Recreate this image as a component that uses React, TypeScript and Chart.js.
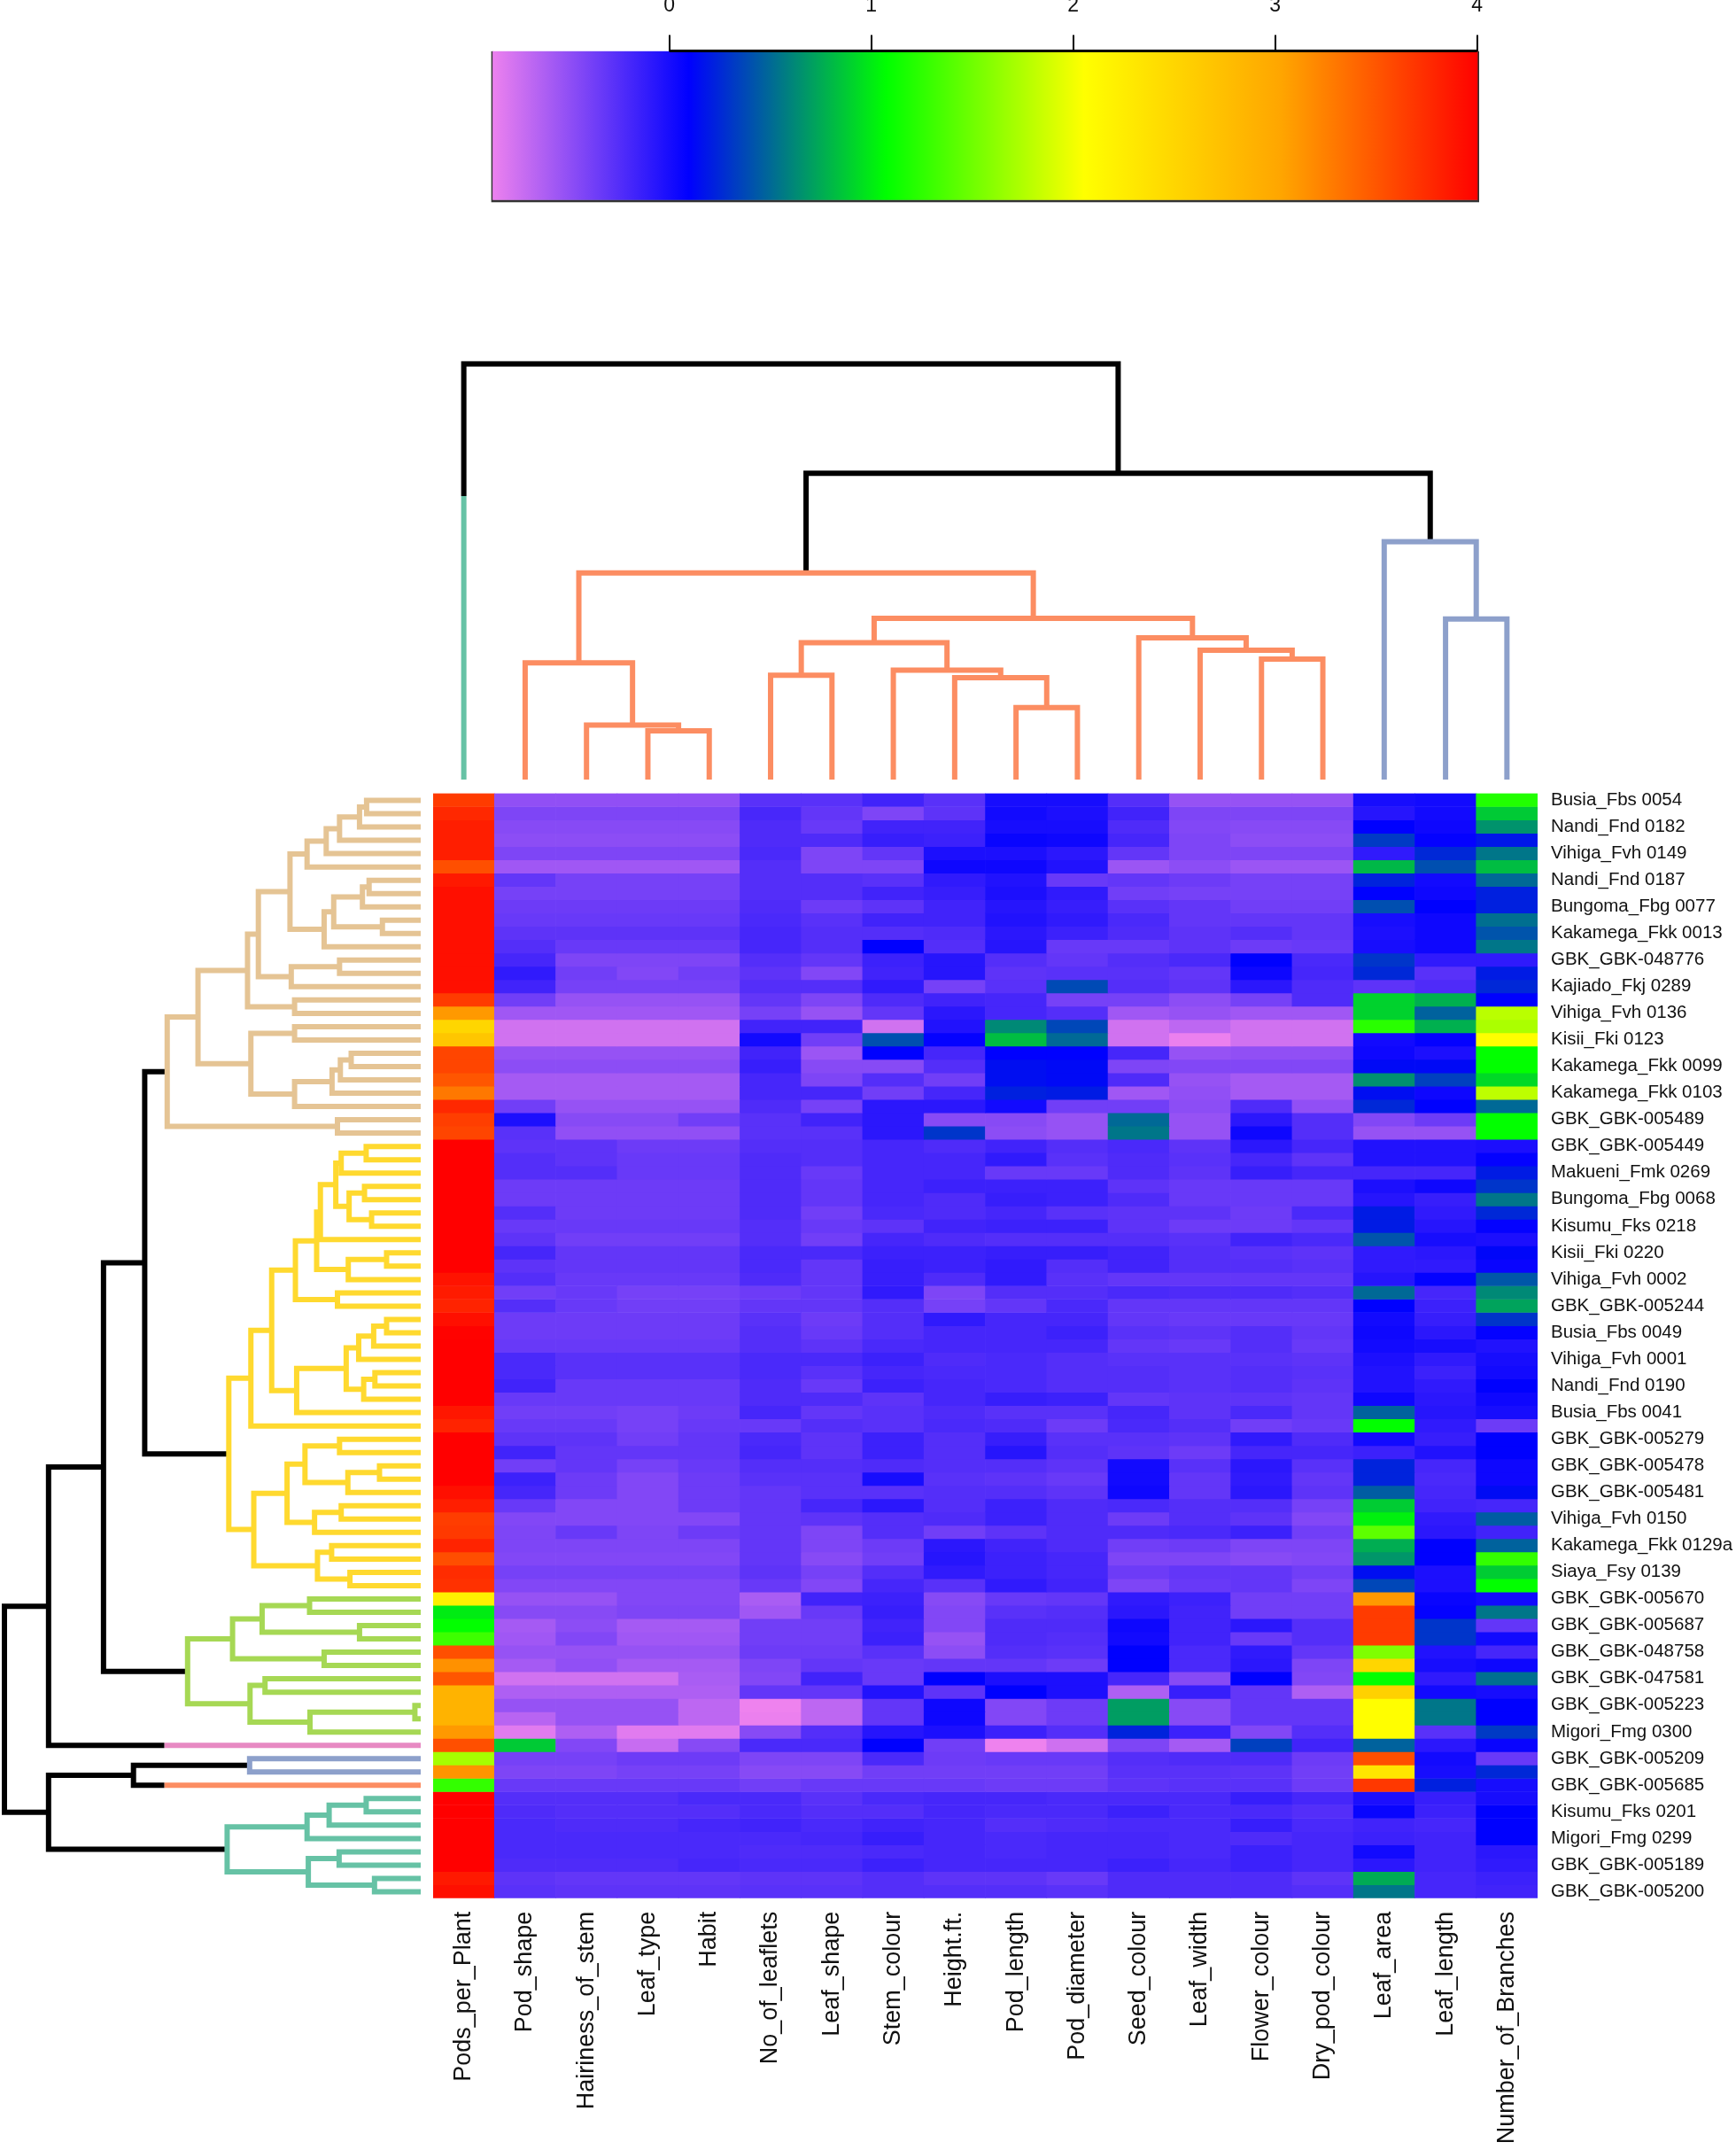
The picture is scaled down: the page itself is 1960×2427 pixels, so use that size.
import React, { useEffect, useRef } from "react";
import { Chart, registerables } from "chart.js";

Chart.register(...registerables);

const variables = ["Pods_per_Plant","Pod_shape","Hairiness_of_stem","Leaf_type","Habit","No_of_leaflets","Leaf_shape","Stem_colour","Height.ft.","Pod_length","Pod_diameter","Seed_colour","Leaf_width","Flower_colour","Dry_pod_colour","Leaf_area","Leaf_length","Number_of_Branches"];

const rowLabels = ["Busia_Fbs 0054","Nandi_Fnd 0182","Vihiga_Fvh 0149","Nandi_Fnd 0187","Bungoma_Fbg 0077","Kakamega_Fkk 0013","GBK_GBK-048776","Kajiado_Fkj 0289","Vihiga_Fvh 0136","Kisii_Fki 0123","Kakamega_Fkk 0099","Kakamega_Fkk 0103","GBK_GBK-005489","GBK_GBK-005449","Makueni_Fmk 0269","Bungoma_Fbg 0068","Kisumu_Fks 0218","Kisii_Fki 0220","Vihiga_Fvh 0002","GBK_GBK-005244","Busia_Fbs 0049","Vihiga_Fvh 0001","Nandi_Fnd 0190","Busia_Fbs 0041","GBK_GBK-005279","GBK_GBK-005478","GBK_GBK-005481","Vihiga_Fvh 0150","Kakamega_Fkk 0129a","Siaya_Fsy 0139","GBK_GBK-005670","GBK_GBK-005687","GBK_GBK-048758","GBK_GBK-047581","GBK_GBK-005223","Migori_Fmg 0300","GBK_GBK-005209","GBK_GBK-005685","Kisumu_Fks 0201","Migori_Fmg 0299","GBK_GBK-005189","GBK_GBK-005200"];

const tanRows = [
[3.66,-.5,-.5,-.5,-.5,-.27,-.27,-.17,-.27,0,0,-.25,-.52,-.52,-.52,0,.02,1.2],
[3.77,-.42,-.42,-.42,-.42,-.2,-.31,-.42,-.29,.02,-.02,-.17,-.42,-.42,-.42,-.06,.02,.87],
[3.83,-.46,-.46,-.46,-.46,-.23,-.33,-.17,-.17,0,0,-.23,-.44,-.46,-.46,.1,.04,.66],
[3.83,-.48,-.48,-.48,-.48,-.23,-.23,-.13,-.15,.06,.04,-.19,-.42,-.48,-.48,.32,.08,.18],
[3.83,-.42,-.42,-.42,-.42,-.21,-.42,-.31,-.02,-.02,-.08,-.31,-.42,-.42,-.42,-.1,.25,.55],
[3.54,-.56,-.56,-.56,-.56,-.25,-.42,-.42,.04,.04,-.04,-.54,-.48,-.54,-.54,.8,.4,.82],
[3.86,-.31,-.39,-.39,-.39,-.25,-.25,-.27,-.1,-.04,-.33,-.31,-.35,-.39,-.39,.23,.02,.5],
[3.92,-.39,-.39,-.39,-.39,-.25,-.25,-.17,-.13,-.02,-.1,-.37,-.39,-.39,-.39,.1,.04,.22],
[3.92,-.35,-.35,-.35,-.35,-.23,-.35,-.29,-.17,-.06,-.13,-.27,-.31,-.37,-.37,.4,.1,.22],
[3.92,-.33,-.33,-.33,-.33,-.21,-.27,-.17,-.17,-.04,-.1,-.21,-.31,-.31,-.31,0,.04,.52],
[3.92,-.29,-.29,-.29,-.29,-.19,-.25,-.25,-.23,-.08,-.15,-.23,-.29,-.25,-.31,-.02,.04,.42],
[3.92,-.25,-.33,-.33,-.33,-.19,-.25,.1,-.25,-.06,-.33,-.33,-.29,-.35,-.33,0,.04,.55],
[3.92,-.19,-.42,-.42,-.42,-.25,-.31,-.15,-.06,-.25,-.31,-.25,-.21,.1,-.21,.3,-.1,-.1],
[3.92,-.1,-.37,-.44,-.37,-.29,-.44,-.17,-.06,-.29,-.27,-.27,-.31,.04,-.19,.25,-.27,.2],
[3.92,-.17,-.39,-.39,-.39,-.25,-.25,-.1,-.39,-.27,.38,-.25,-.29,-.08,-.23,-.29,-.23,.25],
[3.66,-.37,-.52,-.52,-.52,-.31,-.42,-.23,-.17,-.19,-.39,-.39,-.48,-.39,-.23,.9,.77,.1],
[3.1,-.56,-.56,-.56,-.56,-.39,-.52,-.31,-.08,-.19,-.25,-.56,-.52,-.56,-.56,.9,.47,1.79],
[2.5,-.76,-.76,-.76,-.76,-.17,-.17,-.76,-.04,.62,.37,-.76,-.68,-.76,-.76,1.23,.77,1.73],
[2.67,-.76,-.76,-.76,-.76,.02,-.37,.4,.08,.82,.5,-.76,-.87,-.76,-.76,.02,.08,2.06],
[3.6,-.52,-.52,-.52,-.52,-.17,-.54,.1,-.19,.1,.1,-.19,-.52,-.5,-.5,.04,-.02,1.08],
[3.6,-.48,-.48,-.48,-.48,-.13,-.46,-.46,-.25,.15,.13,-.42,-.44,-.44,-.44,.13,.13,1.08],
[3.5,-.58,-.58,-.58,-.58,-.19,-.42,-.25,-.37,.15,.13,-.23,-.52,-.58,-.58,.65,.34,.93],
[3.3,-.58,-.58,-.58,-.58,-.19,-.19,-.37,-.19,.22,.2,-.56,-.5,-.58,-.58,.15,.04,1.8],
[3.77,-.37,-.52,-.52,-.52,-.23,-.39,-.08,-.08,.02,-.37,-.37,-.48,-.23,-.5,.25,.1,.5],
[3.64,-.02,-.46,-.46,-.37,-.27,-.17,-.08,-.46,-.46,-.52,.5,-.52,-.08,-.25,-.44,-.35,1.08],
[3.6,-.27,-.5,-.5,-.5,-.27,-.27,-.08,.3,-.48,-.52,.55,-.52,.04,-.25,-.52,-.52,1.08],
];

const yellowRows = [
[4.01,-.29,-.29,-.35,-.35,-.25,-.25,-.19,-.23,-.17,-.25,-.21,-.29,-.08,-.19,-.04,-.04,-.02],
[4.01,-.25,-.29,-.33,-.33,-.23,-.25,-.19,-.19,-.1,-.27,-.23,-.27,-.19,-.29,-.04,-.04,.08],
[4.01,-.25,-.25,-.33,-.33,-.23,-.33,-.19,-.19,-.33,-.33,-.23,-.29,-.13,-.19,-.19,-.19,.2],
[4.01,-.35,-.35,-.35,-.35,-.23,-.31,-.19,-.15,-.15,-.15,-.29,-.33,-.33,-.33,-.02,.04,.3],
[4.01,-.35,-.35,-.35,-.35,-.23,-.31,-.19,-.23,-.13,-.15,-.23,-.33,-.33,-.33,-.06,-.13,.55],
[4.01,-.25,-.35,-.35,-.35,-.23,-.37,-.21,-.23,-.19,-.27,-.29,-.29,-.35,-.21,.2,-.1,.25],
[4.01,-.33,-.33,-.33,-.33,-.25,-.33,-.29,-.17,-.15,-.15,-.29,-.35,-.35,-.31,.2,-.06,.08],
[4.01,-.29,-.37,-.37,-.37,-.25,-.37,-.19,-.23,-.25,-.25,-.25,-.27,-.17,-.21,.42,0,-.02],
[4.01,-.19,-.31,-.31,-.31,-.21,-.21,-.15,-.15,-.13,-.13,-.17,-.25,-.27,-.29,-.1,-.08,.12],
[4.01,-.29,-.31,-.31,-.31,-.21,-.31,-.13,-.15,-.1,-.25,-.17,-.25,-.25,-.27,-.1,-.1,.06],
[3.9,-.25,-.33,-.33,-.33,-.23,-.31,-.13,-.23,-.1,-.27,-.31,-.31,-.31,-.31,-.06,.08,.43],
[3.85,-.37,-.33,-.39,-.39,-.35,-.31,-.1,-.42,-.25,-.25,-.21,-.23,-.23,-.25,.5,-.19,.62],
[3.8,-.25,-.33,-.37,-.37,-.31,-.31,-.25,-.39,-.31,-.21,-.31,-.31,-.31,-.31,.1,-.15,.72],
[3.92,-.35,-.35,-.35,-.35,-.27,-.35,-.25,-.1,-.19,-.19,-.31,-.33,-.33,-.33,.02,-.13,.3],
[4.0,-.35,-.35,-.35,-.35,-.25,-.33,-.25,-.19,-.19,-.15,-.27,-.29,-.25,-.31,.04,-.08,.08],
[4.01,-.33,-.33,-.33,-.33,-.25,-.29,-.21,-.19,-.19,-.19,-.31,-.33,-.25,-.33,.02,0,-.04],
[4.01,-.21,-.27,-.27,-.27,-.21,-.21,-.15,-.23,-.21,-.25,-.27,-.27,-.27,-.29,-.02,-.1,0],
[4.01,-.21,-.27,-.27,-.27,-.21,-.27,-.19,-.21,-.21,-.25,-.25,-.27,-.25,-.27,-.04,-.15,.02],
[4.01,-.17,-.33,-.33,-.33,-.23,-.33,-.15,-.19,-.21,-.25,-.25,-.27,-.25,-.29,-.04,-.1,.1],
[4.01,-.33,-.33,-.33,-.33,-.23,-.23,-.29,-.19,-.13,-.15,-.31,-.29,-.29,-.31,.04,-.08,.04],
[3.88,-.37,-.37,-.39,-.35,-.19,-.31,-.27,-.23,-.27,-.27,-.19,-.29,-.21,-.31,.47,-.06,0],
[3.8,-.33,-.33,-.39,-.33,-.33,-.25,-.27,-.21,-.23,-.35,-.21,-.25,-.37,-.33,1.08,-.1,-.35],
[4.01,-.29,-.29,-.37,-.31,-.21,-.29,-.15,-.25,-.13,-.27,-.27,-.29,-.1,-.23,.02,-.13,.1],
[4.01,-.17,-.31,-.31,-.31,-.19,-.29,-.15,-.25,-.06,-.25,-.29,-.35,-.19,-.19,-.15,-.04,.1],
[4.01,-.37,-.31,-.39,-.33,-.25,-.25,-.23,-.25,-.25,-.29,.02,-.27,-.08,-.27,.23,-.19,.04],
[4.01,-.15,-.35,-.44,-.35,-.27,-.27,0,-.27,-.29,-.33,.02,-.31,-.1,-.31,.23,-.21,.04],
[3.92,-.19,-.35,-.44,-.35,-.31,-.27,-.27,-.25,-.25,-.29,.04,-.31,-.08,-.29,.45,-.19,.14],
[3.83,-.33,-.44,-.44,-.35,-.31,-.19,-.08,-.25,-.15,-.23,-.21,-.25,-.25,-.39,.88,-.17,-.19],
[3.65,-.44,-.44,-.44,-.44,-.31,-.29,-.25,-.23,-.15,-.23,-.35,-.25,-.29,-.44,1.02,-.1,.45],
[3.67,-.42,-.33,-.42,-.35,-.31,-.42,-.25,-.37,-.29,-.23,-.23,-.21,-.15,-.37,1.43,-.08,-.17],
[3.8,-.42,-.42,-.42,-.42,-.31,-.42,-.35,-.08,-.17,-.23,-.37,-.35,-.42,-.42,.76,.1,.47],
[3.55,-.44,-.44,-.44,-.44,-.31,-.46,-.37,-.06,-.15,-.19,-.42,-.42,-.46,-.44,.67,.1,1.27],
[3.75,-.39,-.39,-.39,-.39,-.29,-.39,-.25,-.1,-.15,-.19,-.35,-.31,-.31,-.37,.15,-.02,.88],
[3.72,-.44,-.44,-.44,-.44,-.33,-.44,-.19,-.27,-.1,-.17,-.42,-.33,-.31,-.42,.37,-.02,1.08],
];

const greenRows = [
[2.22,-.52,-.52,-.44,-.44,-.6,-.17,-.15,-.46,-.33,-.31,-.1,-.15,-.37,-.37,3.1,.06,.02],
[1.0,-.46,-.46,-.42,-.42,-.56,-.33,-.13,-.44,-.27,-.25,-.08,-.17,-.37,-.37,3.66,.08,.55],
[1.08,-.58,-.48,-.58,-.58,-.37,-.37,-.17,-.44,-.23,-.23,.04,-.17,-.08,-.25,3.66,.3,-.31],
[1.31,-.56,-.44,-.56,-.56,-.37,-.37,-.15,-.52,-.23,-.25,.02,-.17,-.33,-.25,3.66,.3,.02],
[3.54,-.52,-.52,-.52,-.52,-.35,-.35,-.27,-.48,-.25,-.27,.1,-.21,-.1,-.31,1.56,-.04,-.19],
[3.15,-.58,-.5,-.58,-.58,-.42,-.31,-.33,-.31,-.31,-.35,.1,-.21,-.08,-.42,2.5,0,.04],
[3.5,-.76,-.76,-.76,-.6,-.44,-.17,-.33,.1,-.02,-.02,-.19,-.46,.1,-.44,1.08,-.1,.52],
[2.88,-.62,-.62,-.62,-.62,-.31,-.31,-.04,-.29,.1,-.02,-.62,-.13,-.31,-.62,2.55,.02,0],
[2.88,-.52,-.52,-.52,-.68,-.88,-.68,-.31,.04,-.44,-.35,.7,-.46,-.31,-.31,2.06,.55,.1],
[2.88,-.66,-.52,-.52,-.68,-.87,-.68,-.31,.04,-.44,-.35,.7,-.46,-.31,-.31,2.06,.55,.1],
[3.1,-.83,-.62,-.83,-.83,-.46,-.25,-.06,-.02,-.15,-.25,.23,-.15,-.44,-.25,2.06,-.27,.32],
];

const pinkRows = [
[3.54,.87,-.44,-.72,-.46,-.21,-.21,.1,-.37,-.88,-.75,-.42,-.58,.34,-.17,.47,-.08,.06],
];

const blueRows = [
[1.71,-.39,-.39,-.35,-.35,-.42,-.42,-.21,-.35,-.33,-.33,-.25,-.23,-.23,-.35,3.54,.02,-.33],
[3.13,-.42,-.42,-.39,-.39,-.46,-.46,-.37,-.37,-.37,-.37,-.27,-.27,-.29,-.37,2.33,0,.25],
];

const orangeRows = [
[1.27,-.33,-.33,-.33,-.33,-.37,-.33,-.33,-.33,-.35,-.35,-.29,-.27,-.27,-.35,3.68,.22,0],
];

const tealRows = [
[4.01,-.25,-.25,-.25,-.21,-.21,-.27,-.21,-.19,-.19,-.21,-.21,-.21,-.13,-.19,-.02,-.13,0],
[4.01,-.23,-.25,-.25,-.25,-.21,-.25,-.25,-.19,-.21,-.21,-.15,-.21,-.21,-.25,.06,-.15,.1],
[4.01,-.21,-.23,-.23,-.19,-.17,-.21,-.17,-.19,-.25,-.23,-.21,-.21,-.13,-.21,-.17,-.19,.1],
[4.01,-.21,-.21,-.21,-.21,-.21,-.19,-.13,-.19,-.21,-.19,-.19,-.21,-.23,-.19,-.15,-.17,.1],
[4.01,-.21,-.21,-.21,-.21,-.23,-.23,-.21,-.19,-.21,-.19,-.19,-.21,-.15,-.19,.02,-.17,-.08],
[4.01,-.23,-.23,-.23,-.19,-.21,-.21,-.15,-.19,-.19,-.19,-.15,-.19,-.15,-.19,-.08,-.17,-.1],
[3.86,-.29,-.31,-.31,-.31,-.29,-.29,-.25,-.29,-.29,-.33,-.23,-.23,-.23,-.29,.75,-.19,-.15],
[3.92,-.27,-.29,-.29,-.29,-.27,-.27,-.25,-.25,-.25,-.27,-.23,-.23,-.23,-.25,.55,-.19,-.17],
];

const heatRows = [...tanRows, ...yellowRows, ...greenRows, ...pinkRows, ...blueRows, ...orangeRows, ...tealRows];

const keyStops = [-0.882, 0.096, 1.074, 2.053, 3.031, 4.01];
const keyColours = [[238,130,238],[0,0,255],[0,255,0],[255,255,0],[255,165,0],[255,0,0]];
const keyTicks = [0, 1, 2, 3, 4];

const SET2 = { teal:"#66C2A5", orange:"#FC8D62", blue:"#8DA0CB", pink:"#E78AC3", green:"#A6D854", yellow:"#FFD92F", tan:"#E5C494" };

// Dendrograms: [merge height, left child, right child]; numbers are leaf positions.
const tanTree: any = [60.9,[53.5,[41.6,[39.0,[31.4,[27.3,[22.7,[19.5,[14.7,[13,0,1],2],3],4],5],[23.2,[20.9,[14,[12.4,6,7],8],[9.2,9,10]],11]],[31.1,[19.5,12,13],14]],[30.3,15,16]],[40.8,[30.3,17,18],[30.3,[21.3,[19.3,[16.7,19,20],21],22],23]]],[20,24,25]];
const yellowTree: any = [46.1,[40.8,[35.8,[30.1,[25.0,[24.1,[20.4,[19.1,[13.1,26,27],28],[17.2,[13.5,29,30],[11.8,31,32]]],33],[17.4,[8.2,34,35],36]],[20,37,38]],[29.8,[17.9,[14.9,[11.3,[8.2,39,40],41],42],[13.7,[11,43,44],45]],46]],47],[40.1,[32.1,[27.8,[19.5,48,49],[17.5,[9.9,50,51],52]],[25.5,[19.1,53,54],55]],[24.8,[21.4,56,57],[17,58,59]]]];
const greenTree: any = [56,[45.2,[38.1,[26.7,60,61],[14.7,62,63]],[23.2,64,65]],[41,[37.4,66,67],[26.6,[1.4,68,69],70]]];
const rowBlueTree: any = [41.1,72,73];
const tealTree: any = [46.5,[27.3,[22,[13.1,75,76],77],78],[27,[19.6,79,80],[11.1,81,82]]];
const rowRoot: any = [100,[89.4,[76.2,[66.3,tanTree,yellowTree],greenTree],71],[89.4,[69,rowBlueTree,74],tealTree]];
const rowCut = 61.6;

const colOrangeTree: any = [49.7,[28.1,1,[13.1,2,[11.7,3,4]]],[38.8,[32.9,[25.1,5,6],[26.3,7,[24.5,8,[17.3,9,10]]]],[34.1,11,[31.1,12,[29,13,14]]]]];
const colBlueTree: any = [57.2,15,[38.6,16,17]];
const colRoot: any = [100,0,[73.7,colOrangeTree,colBlueTree]];
const colCut = 68.2;

const FONT = "'Liberation Sans', Arial, sans-serif";

function valueColour(v: number) {
  const c = Math.max(keyStops[0], Math.min(keyStops[keyStops.length - 1], v));
  let i = 0;
  while (i < keyStops.length - 2 && c > keyStops[i + 1]) i++;
  const t = (c - keyStops[i]) / (keyStops[i + 1] - keyStops[i]);
  const a = keyColours[i], b = keyColours[i + 1];
  return `rgb(${a.map((p, k) => Math.round(p + (b[k] - p) * t)).join(",")})`;
}

function dendroSegments(root: any, colours: Map<any, string>, singles: Record<number, string>, cut: number) {
  const segs: { pts: [number, number][]; color: string }[] = [];
  const walk = (node: any, inherited: string): number => {
    if (typeof node === "number") return node + 0.5;
    const color = colours.get(node) || inherited;
    const [h, l, r] = node;
    const a = walk(l, color), b = walk(r, color);
    const hl = typeof l === "number" ? 0 : l[0];
    const hr = typeof r === "number" ? 0 : r[0];
    const stop = (child: any, hc: number) => (typeof child === "number" && singles[child] ? cut : hc);
    segs.push({ pts: [[a, stop(l, hl)], [a, h], [b, h], [b, stop(r, hr)]], color });
    for (const [child, p] of [[l, a], [r, b]] as any) {
      if (typeof child === "number" && singles[child]) segs.push({ pts: [[p, cut], [p, 0]], color: singles[child] });
    }
    return (a + b) / 2;
  };
  walk(root, "#000000");
  return segs;
}

function dendroDatasets(segs: ReturnType<typeof dendroSegments>, horizontal: boolean) {
  return segs.map((s) => ({
    data: s.pts.map(([p, h]) => (horizontal ? { x: h, y: p } : { x: p, y: h })),
    borderColor: s.color,
    borderWidth: 6,
    showLine: true,
    pointRadius: 0,
    tension: 0,
    clip: false as any,
    borderJoinStyle: "miter" as const,
    borderCapStyle: "butt" as const,
  }));
}

const base = { animation: false as const, responsive: false, devicePixelRatio: 1, plugins: { legend: { display: false }, tooltip: { enabled: false } } };

function useChart(build: (c: HTMLCanvasElement) => Chart) {
  const ref = useRef<HTMLCanvasElement>(null);
  useEffect(() => {
    const chart = build(ref.current!);
    return () => chart.destroy();
  }, []);
  return ref;
}

function abs(left: number, top: number): React.CSSProperties {
  return { position: "absolute", left, top, display: "block", filter: "blur(0.7px)" };
}

function zeroPadding(s: any) {
  s.paddingTop = 0; s.paddingBottom = 0; s.paddingLeft = 0; s.paddingRight = 0;
}

function ColourKey() {
  const ref = useChart((c) => new Chart(c, {
    type: "bar",
    data: {
      labels: ["key"],
      datasets: [{
        data: [[keyStops[0], keyStops[keyStops.length - 1]]] as any,
        barPercentage: 1,
        categoryPercentage: 1,
        borderColor: "#333333",
        borderWidth: { left: 2, right: 2, bottom: 3, top: 0 } as any,
        borderSkipped: false,
        backgroundColor: (ctx: any) => {
          const { chart } = ctx;
          const x = chart.scales.x;
          if (!chart.chartArea || !x) return "#0000ff";
          const from = x.getPixelForValue(keyStops[0]);
          const to = x.getPixelForValue(keyStops[keyStops.length - 1]);
          const g = chart.ctx.createLinearGradient(from, 0, to, 0);
          keyStops.forEach((s, i) => g.addColorStop((s - keyStops[0]) / (keyStops[keyStops.length - 1] - keyStops[0]), `rgb(${keyColours[i].join(",")})`));
          return g;
        },
      }],
    },
    plugins: [{
      id: "axisSegment",
      afterDraw(chart: any) {
        const { ctx, scales: { x }, chartArea } = chart;
        ctx.save();
        ctx.strokeStyle = "#000";
        ctx.lineWidth = 3;
        ctx.beginPath();
        ctx.moveTo(x.getPixelForValue(keyTicks[0]), chartArea.top);
        ctx.lineTo(x.getPixelForValue(keyTicks[keyTicks.length - 1]), chartArea.top);
        ctx.stroke();
        ctx.restore();
      },
    }],
    options: {
      ...base,
      indexAxis: "y",
      layout: { padding: { left: 14.5, right: 30, bottom: 11.5 } },
      scales: {
        y: { display: false },
        x: {
          position: "top",
          min: keyStops[0],
          max: keyStops[keyStops.length - 1],
          afterFit: (s: any) => { s.height = 57.5; zeroPadding(s); },
          afterBuildTicks: (s: any) => { s.ticks = keyTicks.map((value) => ({ value })); },
          border: { display: false },
          grid: { drawOnChartArea: false, drawTicks: true, tickLength: 18, color: "#000", lineWidth: 2 },
          ticks: { padding: 19, color: "#111", font: { family: FONT, size: 23 }, maxRotation: 0, autoSkip: false, callback: (v: any) => String(v) },
        },
      },
    } as any,
  }));
  return <canvas ref={ref} width={1160} height={240} style={abs(540, 0)} />;
}

function TopTree() {
  const ref = useChart((c) => new Chart(c, {
    type: "scatter",
    data: { datasets: dendroDatasets(dendroSegments(colRoot, new Map([[colOrangeTree, SET2.orange], [colBlueTree, SET2.blue]]), { 0: SET2.teal }, colCut), false) as any },
    options: {
      ...base,
      layout: { padding: { top: 10.7, bottom: 5 } },
      scales: {
        x: { display: false, min: 0, max: variables.length },
        y: { display: false, min: 0, max: 100 },
      },
    } as any,
  }));
  return <canvas ref={ref} width={1247} height={485} style={abs(489, 400)} />;
}

function LeftTree() {
  const ref = useChart((c) => new Chart(c, {
    type: "scatter",
    data: { datasets: dendroDatasets(dendroSegments(rowRoot, new Map<any, string>([[tanTree, SET2.tan], [yellowTree, SET2.yellow], [greenTree, SET2.green], [rowBlueTree, SET2.blue], [tealTree, SET2.teal]]), { 71: SET2.pink, 74: SET2.orange }, rowCut), true) as any },
    options: {
      ...base,
      layout: { padding: { left: 5, right: 5 } },
      scales: {
        x: { display: false, min: 0, max: 100, reverse: true },
        y: { display: false, min: 0, max: heatRows.length, reverse: true },
      },
    } as any,
  }));
  return <canvas ref={ref} width={480} height={1247} style={abs(0, 895.5)} />;
}

function Heatmap() {
  const ref = useChart((c) => new Chart(c, {
    type: "bar",
    data: {
      labels: variables,
      datasets: heatRows.map((row, r) => ({
        data: row.map(() => [r, r + 1]) as any,
        backgroundColor: row.map((v) => valueColour(v)),
        grouped: false,
        barPercentage: 1,
        categoryPercentage: 1,
        borderWidth: 0,
      })),
    },
    options: {
      ...base,
      layout: { padding: { top: 10.5 } },
      scales: {
        x: {
          afterFit: (s: any) => { s.height = 284.3; zeroPadding(s); },
          border: { display: false },
          grid: { display: false, drawTicks: false },
          ticks: { autoSkip: false, minRotation: 90, maxRotation: 90, padding: 15, color: "#111", font: { family: FONT, size: 27 } },
        },
        y: {
          position: "right",
          reverse: true,
          min: 0,
          max: heatRows.length,
          afterFit: (s: any) => { s.width = 224; zeroPadding(s); },
          afterBuildTicks: (s: any) => { s.ticks = rowLabels.map((_, i) => ({ value: i * 2 + 0.5 })); },
          border: { display: false },
          grid: { display: false, drawTicks: false },
          ticks: { autoSkip: false, padding: 15, color: "#111", font: { family: FONT, size: 20.5 }, callback: (_: any, i: number) => rowLabels[i] },
        },
      },
    } as any,
  }));
  return <canvas ref={ref} width={1471} height={1542} style={abs(489, 885)} />;
}

export default function App() {
  useEffect(() => { document.body.style.margin = "0"; document.body.style.background = "#fff"; }, []);
  return (
    <div style={{ position: "relative", width: 1960, height: 2427, overflow: "hidden", background: "#fff" }}>
      <ColourKey />
      <TopTree />
      <LeftTree />
      <Heatmap />
    </div>
  );
}
